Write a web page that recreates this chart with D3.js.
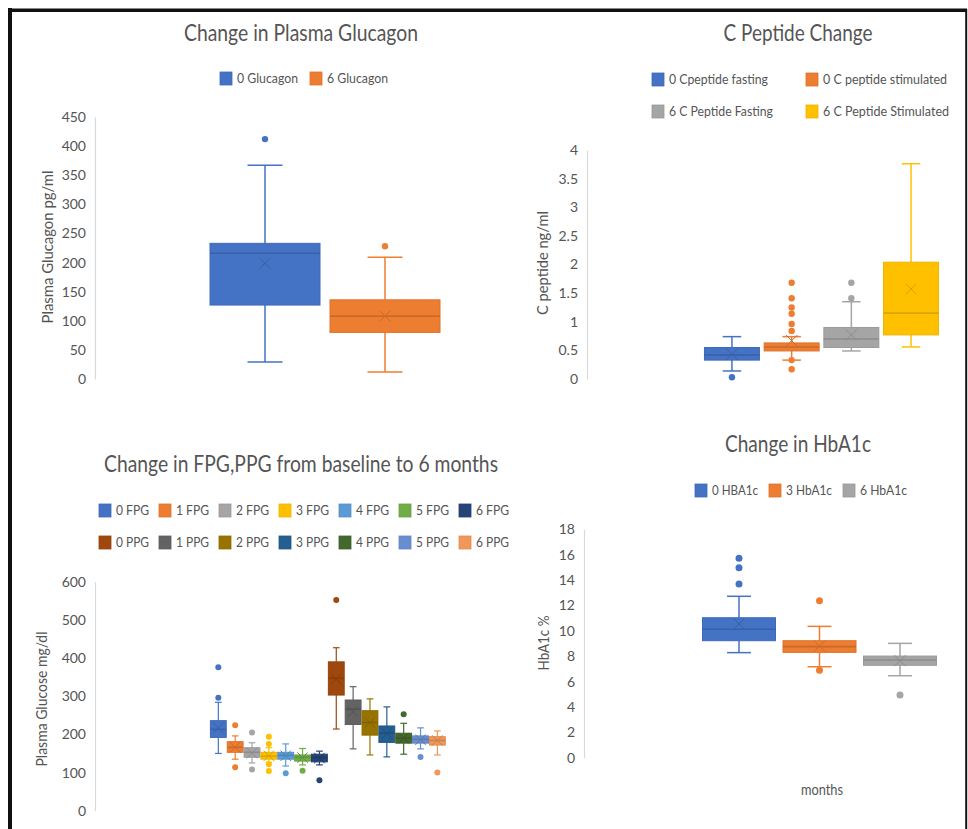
<!DOCTYPE html>
<html>
<head>
<meta charset="utf-8">
<script src="https://cdn.jsdelivr.net/npm/d3@7"></script>
<style>
  html, body { margin: 0; padding: 0; background: #fff; }
  svg { display: block; }
  text { font-family: Lato, "Open Sans", sans-serif; fill: #555555; }
</style>
</head>
<body>
<svg id="chart" width="968" height="829"></svg>
<script>
// ---------------- DATA ----------------
// Chart 1: Plasma Glucagon (pg/ml)
const glucagonSeries  = ["0 Glucagon", "6 Glucagon"];
const glucagonMin     = [29, 12];
const glucagonQ1      = [127, 80];
const glucagonMedian  = [216, 108];
const glucagonQ3      = [233, 136];
const glucagonMax     = [367, 209];
const glucagonMean    = [199, 108];
const glucagonOutliers = [[412], [228]];
const glucagonTicks   = [0, 50, 100, 150, 200, 250, 300, 350, 400, 450];

// Chart 2: C Peptide (ng/ml)
const cpepSeries   = ["0 Cpeptide fasting", "0 C peptide stimulated", "6 C Peptide Fasting", "6 C Peptide Stimulated"];
const cpepMin      = [0.14, 0.33, 0.49, 0.56];
const cpepQ1       = [0.33, 0.49, 0.55, 0.77];
const cpepMedian   = [0.42, 0.56, 0.70, 1.15];
const cpepQ3       = [0.55, 0.63, 0.90, 2.04];
const cpepMax      = [0.74, 0.74, 1.35, 3.76];
const cpepMean     = [0.43, 0.67, 0.77, 1.57];
const cpepOutliers = [[0.03], [1.68, 1.41, 1.25, 1.14, 0.96, 0.84, 0.33, 0.17], [1.68, 1.41], []];
const cpepTicks    = [0, 0.5, 1, 1.5, 2, 2.5, 3, 3.5, 4];

// Chart 3: FPG / PPG (mg/dl)
const glucoseSeries  = ["0 FPG", "1 FPG", "2 FPG", "3 FPG", "4 FPG", "5 FPG", "6 FPG",
                        "0 PPG", "1 PPG", "2 PPG", "3 PPG", "4 PPG", "5 PPG", "6 PPG"];
const glucoseMin     = [150, 135, 125, 127, 117, 120, 120, 214, 162, 146, 141, 148, 162, 146];
const glucoseQ1      = [192, 153, 140, 135, 135, 130, 128, 303, 226, 198, 179, 177, 177, 172];
const glucoseMedian  = [213, 166, 153, 143, 145, 140, 139, 347, 266, 231, 203, 190, 187, 184];
const glucoseQ3      = [236, 181, 165, 153, 153, 146, 148, 390, 290, 262, 222, 203, 196, 194];
const glucoseMax     = [284, 196, 178, 165, 175, 163, 156, 427, 325, 293, 272, 229, 217, 209];
const glucoseMean    = [217, 166, 151, 144, 144, 139, 138, 345, 259, 231, 202, 190, 186, 184];
const glucoseOutliers = [[376, 296], [224, 114], [205, 108], [194, 175, 122, 104], [98], [105], [80],
                         [552], [], [], [], [253], [141], [100]];
const glucoseTicks   = [0, 100, 200, 300, 400, 500, 600];

// Chart 4: HbA1c (%)
const hba1cSeries   = ["0 HBA1c", "3 HbA1c", "6 HbA1c"];
const hba1cMin      = [8.28, 7.17, 6.46];
const hba1cQ1       = [9.22, 8.30, 7.28];
const hba1cMedian   = [10.12, 8.75, 7.70];
const hba1cQ3       = [11.03, 9.22, 8.01];
const hba1cMax      = [12.72, 10.35, 9.01];
const hba1cMean     = [10.54, 8.80, 7.65];
const hba1cOutliers = [[15.71, 14.97, 13.69], [12.37, 6.89], [4.94]];
const hba1cTicks    = [0, 2, 4, 6, 8, 10, 12, 14, 16, 18];

// Colours (Office palette)
const colGlucagon = ["#4472C4", "#ED7D31"];
const colCpep     = ["#4472C4", "#ED7D31", "#A5A5A5", "#FFC000"];
const colGlucose  = ["#4472C4", "#ED7D31", "#A5A5A5", "#FFC000", "#5B9BD5", "#70AD47", "#264478",
                     "#9E480E", "#636363", "#997300", "#255E91", "#43682B", "#698ED0", "#F1975A"];
const colHba1c    = ["#4472C4", "#ED7D31", "#A5A5A5"];

// ---------------- DRAWING ----------------
const svg = d3.select("#chart");

function fitText(sel, width) {
  sel.attr("textLength", width).attr("lengthAdjust", "spacingAndGlyphs");
}

function makeRows(series, mn, q1, md, q3, mx, mean, outl, colors) {
  return series.map((s, i) => ({ name: s, min: mn[i], q1: q1[i], med: md[i], q3: q3[i], max: mx[i], mean: mean[i], out: outl[i], color: colors[i] }));
}

function drawPanel(cfg) {
  const g = svg.append("g");
  const y = d3.scaleLinear().domain(cfg.domain).range([cfg.y0, cfg.y1]);
  const x = d3.scaleBand().domain(cfg.rows.map(d => d.name)).range(cfg.xRange)
              .paddingInner(cfg.pad).paddingOuter(cfg.pad / 2);

  // title
  const t = g.append("text").attr("x", cfg.titleX).attr("y", cfg.titleY)
    .attr("text-anchor", "middle").style("font-size", cfg.titleSize + "px").text(cfg.title);
  fitText(t, cfg.titleW);

  // axis line + labels using d3 axis
  const axis = d3.axisLeft(y).tickValues(cfg.ticks).tickSize(0).tickPadding(9)
                 .tickFormat(cfg.fmt || (d => d));
  const ag = g.append("g").attr("transform", `translate(${cfg.axisX},0)`).call(axis);
  ag.select(".domain").attr("stroke", "#D9D9D9").attr("stroke-width", 1.2);
  ag.selectAll("text").style("font-size", cfg.tickSize + "px").style("font-family", "Lato, sans-serif")
    .attr("fill", "#555555");

  // y title
  const yt = g.append("text").attr("transform", `translate(${cfg.ytX},${cfg.ytY}) rotate(-90)`)
    .attr("text-anchor", "middle").style("font-size", cfg.ytSize + "px").text(cfg.ytitle);
  fitText(yt, cfg.ytW);

  // boxes
  const bw = x.bandwidth();
  const cap = bw * 0.3;
  const mk = Math.min(5.5, bw * 0.33);
  cfg.rows.forEach(d => {
    const cx = x(d.name) + bw / 2;
    const dark = d3.color(d.color).darker(0.45).formatHex();
    const bg = g.append("g");
    // whiskers
    bg.append("line").attr("x1", cx).attr("x2", cx).attr("y1", y(d.q3)).attr("y2", y(d.max))
      .attr("stroke", d.color).attr("stroke-width", cfg.lw);
    bg.append("line").attr("x1", cx).attr("x2", cx).attr("y1", y(d.q1)).attr("y2", y(d.min))
      .attr("stroke", d.color).attr("stroke-width", cfg.lw);
    bg.append("line").attr("x1", cx - cap / 2 - 1).attr("x2", cx + cap / 2 + 1).attr("y1", y(d.max)).attr("y2", y(d.max))
      .attr("stroke", d.color).attr("stroke-width", cfg.lw);
    bg.append("line").attr("x1", cx - cap / 2 - 1).attr("x2", cx + cap / 2 + 1).attr("y1", y(d.min)).attr("y2", y(d.min))
      .attr("stroke", d.color).attr("stroke-width", cfg.lw);
    // box
    bg.append("rect").attr("x", x(d.name)).attr("width", bw)
      .attr("y", y(d.q3)).attr("height", Math.max(1, y(d.q1) - y(d.q3)))
      .attr("fill", d.color).attr("stroke", d3.color(d.color).darker(0.2).formatHex()).attr("stroke-width", 1);
    // median
    bg.append("line").attr("x1", x(d.name)).attr("x2", x(d.name) + bw).attr("y1", y(d.med)).attr("y2", y(d.med))
      .attr("stroke", dark).attr("stroke-width", 1.6);
    // mean marker (X)
    const my = y(d.mean);
    bg.append("path").attr("d", `M${cx - mk},${my - mk}L${cx + mk},${my + mk}M${cx - mk},${my + mk}L${cx + mk},${my - mk}`)
      .attr("stroke", dark).attr("stroke-width", 1).attr("fill", "none");
    // outliers
    bg.selectAll("circle").data(d.out).join("circle")
      .attr("cx", cx).attr("cy", v => y(v)).attr("r", cfg.r).attr("fill", d.color);
  });

  // legend
  cfg.rows.forEach((d, i) => {
    const pos = cfg.legendPos[i];
    g.append("rect").attr("x", pos[0]).attr("y", pos[1] - 11).attr("width", 12).attr("height", 13)
      .attr("fill", d.color).attr("stroke", d3.color(d.color).darker(0.2).formatHex()).attr("stroke-width", 0.8);
    const lt = g.append("text").attr("x", pos[0] + 17).attr("y", pos[1])
      .style("font-size", cfg.legSize + "px").text(d.name);
    if (cfg.legW) fitText(lt, cfg.legW[i]);
  });
  return { g, x, y };
}

// Panel 1
drawPanel({
  rows: makeRows(glucagonSeries, glucagonMin, glucagonQ1, glucagonMedian, glucagonQ3, glucagonMax, glucagonMean, glucagonOutliers, colGlucagon),
  domain: [0, 450], y0: 379, y1: 117, ticks: glucagonTicks, axisX: 95,
  xRange: [205, 445], pad: 10 / 120,
  title: "Change in Plasma Glucagon", titleX: 301, titleY: 41, titleSize: 22.5, titleW: 234,
  ytitle: "Plasma Glucagon pg/ml", ytX: 53, ytY: 247, ytSize: 15, ytW: 153,
  tickSize: 14, lw: 1.5, r: 3.2, legSize: 14,
  legendPos: [[220, 83], [310, 83]], legW: [61, 61]
});

// Panel 2
drawPanel({
  rows: makeRows(cpepSeries, cpepMin, cpepQ1, cpepMedian, cpepQ3, cpepMax, cpepMean, cpepOutliers, colCpep),
  domain: [0, 4], y0: 379, y1: 150, ticks: cpepTicks, axisX: 587,
  xRange: [702.1, 940.9], pad: 0.079,
  title: "C Peptide Change", titleX: 798, titleY: 41, titleSize: 22.5, titleW: 149,
  ytitle: "C peptide ng/ml", ytX: 548, ytY: 263, ytSize: 15, ytW: 104,
  tickSize: 14, lw: 1.5, r: 3.2, legSize: 14,
  legendPos: [[652, 84], [806, 84], [652, 116], [806, 116]], legW: [99, 124, 104, 126]
});

// Panel 3
drawPanel({
  rows: makeRows(glucoseSeries, glucoseMin, glucoseQ1, glucoseMedian, glucoseQ3, glucoseMax, glucoseMean, glucoseOutliers, colGlucose),
  domain: [0, 600], y0: 810.7, y1: 581.7, ticks: glucoseTicks, axisX: 95,
  xRange: [209.9, 445.8], pad: 0.06,
  title: "Change in FPG,PPG from baseline to 6 months", titleX: 301, titleY: 472, titleSize: 22.5, titleW: 394,
  ytitle: "Plasma Glucose mg/dl", ytX: 47, ytY: 699, ytSize: 15, ytW: 135,
  tickSize: 14, lw: 1.2, r: 3, legSize: 14,
  legendPos: glucoseSeries.map((s, i) => [99 + (i % 7) * 60, i < 7 ? 515 : 547]),
  legW: glucoseSeries.map(() => 33)
});

// Panel 4
const p4 = drawPanel({
  rows: makeRows(hba1cSeries, hba1cMin, hba1cQ1, hba1cMedian, hba1cQ3, hba1cMax, hba1cMean, hba1cOutliers, colHba1c),
  domain: [0, 18], y0: 757.7, y1: 529.3, ticks: hba1cTicks, axisX: 584,
  xRange: [698.75, 940.25], pad: 0.093,
  title: "Change in HbA1c", titleX: 798, titleY: 452, titleSize: 22.5, titleW: 146,
  ytitle: "HbA1c %", ytX: 549, ytY: 643, ytSize: 15, ytW: 55,
  tickSize: 14, lw: 1.5, r: 3.5, legSize: 14,
  legendPos: [[695, 495], [769, 495], [843, 495]], legW: [46, 46, 47]
});
const mt = p4.g.append("text").attr("x", 822).attr("y", 795).attr("text-anchor", "middle")
  .style("font-size", "14.5px").text("months");
fitText(mt, 42);

// Outer frame (black border of the figure)
svg.append("line").attr("x1", 10).attr("x2", 10).attr("y1", 8).attr("y2", 829).attr("stroke", "#111").attr("stroke-width", 4);
svg.append("line").attr("x1", 8).attr("x2", 967).attr("y1", 10.3).attr("y2", 10.3).attr("stroke", "#111").attr("stroke-width", 3.4);
svg.append("line").attr("x1", 966.2).attr("x2", 966.2).attr("y1", 9).attr("y2", 829).attr("stroke", "#111").attr("stroke-width", 2);
</script>
</body>
</html>
